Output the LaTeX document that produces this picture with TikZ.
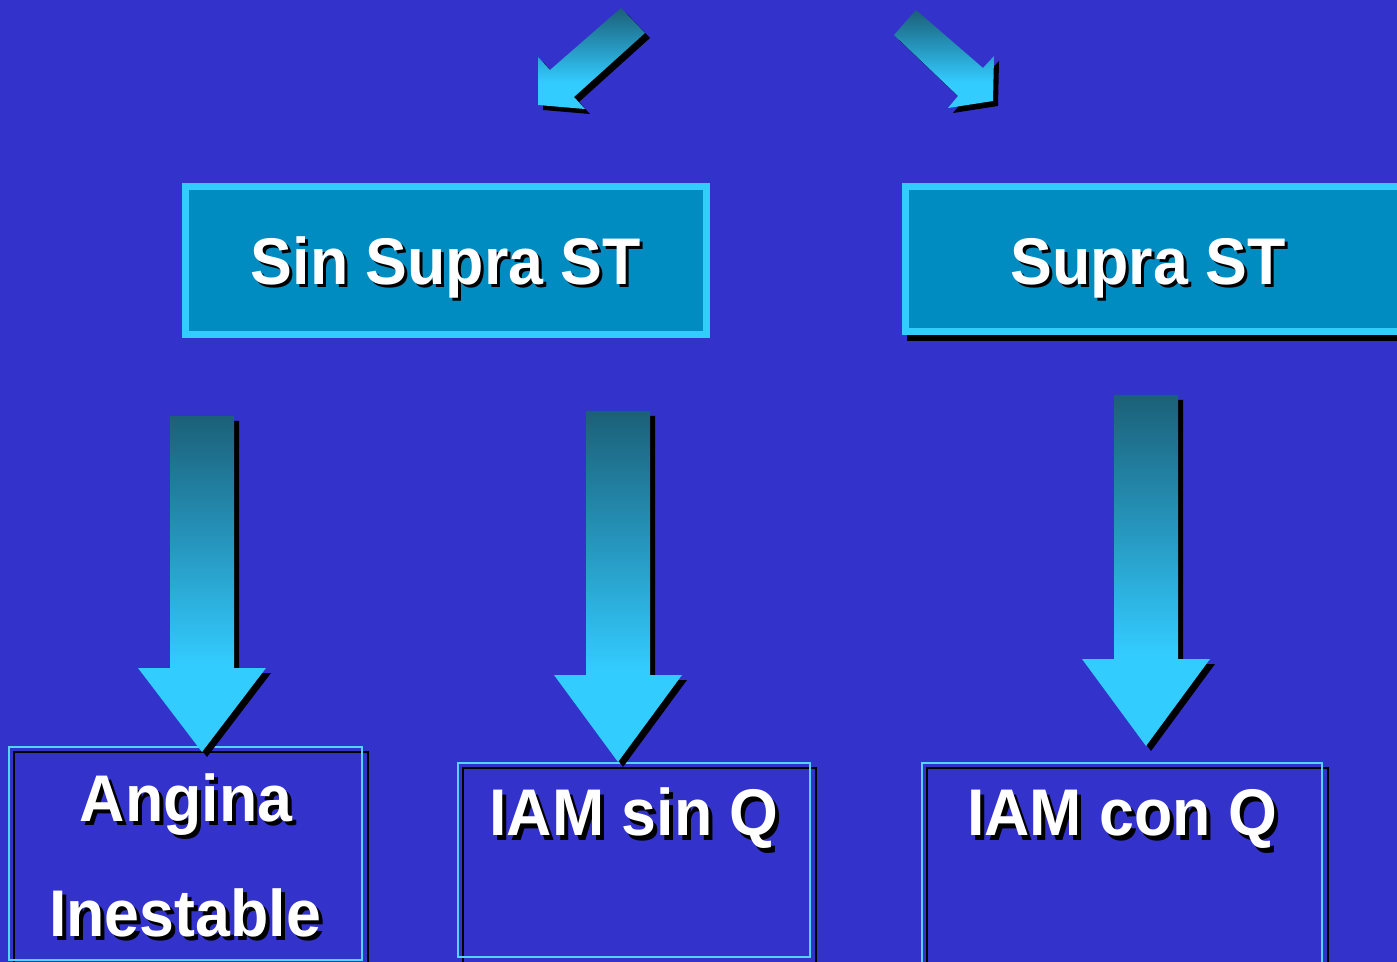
\documentclass[tikz,border=0pt]{standalone}
\usepackage{fontspec}
\setmainfont{Liberation Sans}
\newfontfamily\lblfont{Liberation Sans}[FakeStretch=0.95]
\definecolor{bg}{RGB}{51,51,204}
\definecolor{boxfill}{RGB}{0,140,192}
\definecolor{cyanl}{RGB}{51,204,255}
\definecolor{teald}{RGB}{27,96,120}
\definecolor{tealm}{RGB}{38,150,190}
\pgfdeclareverticalshading{arrowshade}{100bp}{color(0bp)=(cyanl); color(25bp)=(cyanl); color(38bp)=(cyanl); color(56bp)=(tealm); color(75bp)=(teald); color(100bp)=(teald)}
\newcommand\vbshape[6]{% cx, top, head, tip, offset, style
  \path[#6] ({#1-32+#5},{#2+#5}) -- ({#1+32+#5},{#2+#5}) -- ({#1+32+#5},{#3+#5}) -- ({#1+64+#5},{#3+#5}) -- ({#1+#5},{#4+#5}) -- ({#1-64+#5},{#3+#5}) -- ({#1-32+#5},{#3+#5}) -- cycle;}
\tikzset{
  arrowbody/.style={shading=arrowshade},
  arrowshadow/.style={fill=black},
  lbl/.style={text=white, font=\lblfont\fontsize{33}{38}\selectfont\bfseries, anchor=base, inner sep=0pt},
  lblshadow/.style={lbl, text=black},
  topbox/.style={draw=cyanl, line width=3.5pt, fill=boxfill},
  thinlight/.style={draw=cyanl!85!white, line width=1pt},
  thindark/.style={draw=black, line width=1.2pt},
}
\begin{document}
\begin{tikzpicture}[x=0.5pt,y=-0.5pt]
\useasboundingbox (0,0) rectangle (1397,962);
\clip (0,0) rectangle (1397,962);
\fill[bg] (0,0) rectangle (1397,962);
% diagonal arrows
\fill[arrowshadow] (626,13) -- (650,38) -- (579,102) -- (590,114) -- (543,110) -- (543,62) -- (555,75) -- cycle;
\shade[arrowbody] (621,8) -- (645,33) -- (574,97) -- (585,109) -- (538,105) -- (538,57) -- (550,70) -- cycle;
\fill[arrowshadow] (921,15) -- (988,73) -- (999,61) -- (998,106) -- (953,113) -- (963,101) -- (899,40) -- cycle;
\shade[arrowbody] (916,10) -- (983,68) -- (994,56) -- (993,101) -- (948,108) -- (958,96) -- (894,35) -- cycle;
% top boxes
\draw[topbox] (185.5,186.5) rectangle (706.5,334.5);
\fill[black] (907,331) rectangle (1410,341);
\draw[topbox] (905.5,186.5) rectangle (1410,331.5);
\node[lblshadow] (sinsh) at (449,288) {Sin Supra ST};
\node[lbl] (sin) at (446,285) {Sin Supra ST};
\node[lblshadow] (supsh) at (1151,288) {Supra ST};
\node[lbl] (sup) at (1148,285) {Supra ST};
% bottom boxes
\draw[thindark] (14,752) rectangle (368,980);
\draw[thinlight] (9,747) rectangle (362,960);
\draw[thindark] (463,768) rectangle (816,980);
\draw[thinlight] (458,763) rectangle (810,957);
\draw[thindark] (927,768) rectangle (1328,980);
\draw[thinlight] (922,763) rectangle (1322,975);
% vertical arrows
\vbshape{202}{416}{668}{752}{5}{arrowshadow}
\vbshape{202}{416}{668}{752}{0}{arrowbody}
\vbshape{618}{411}{675}{762}{5}{arrowshadow}
\vbshape{618}{411}{675}{762}{0}{arrowbody}
\vbshape{1146}{395}{659}{746}{5}{arrowshadow}
\vbshape{1146}{395}{659}{746}{0}{arrowbody}
% bottom labels
\node[lblshadow] (angsh) at (190,825) {Angina};
\node[lbl] (ang) at (186,821) {Angina};
\node[lblshadow] (inesh) at (189,940) {Inestable};
\node[lbl] (ine) at (185,936) {Inestable};
\node[lblshadow] (iamssh) at (638,840) {IAM sin Q};
\node[lbl] (iams) at (634,835) {IAM sin Q};
\node[lblshadow] (iamcsh) at (1126,840) {IAM con Q};
\node[lbl] (iamc) at (1122,835) {IAM con Q};
\end{tikzpicture}
\end{document}
